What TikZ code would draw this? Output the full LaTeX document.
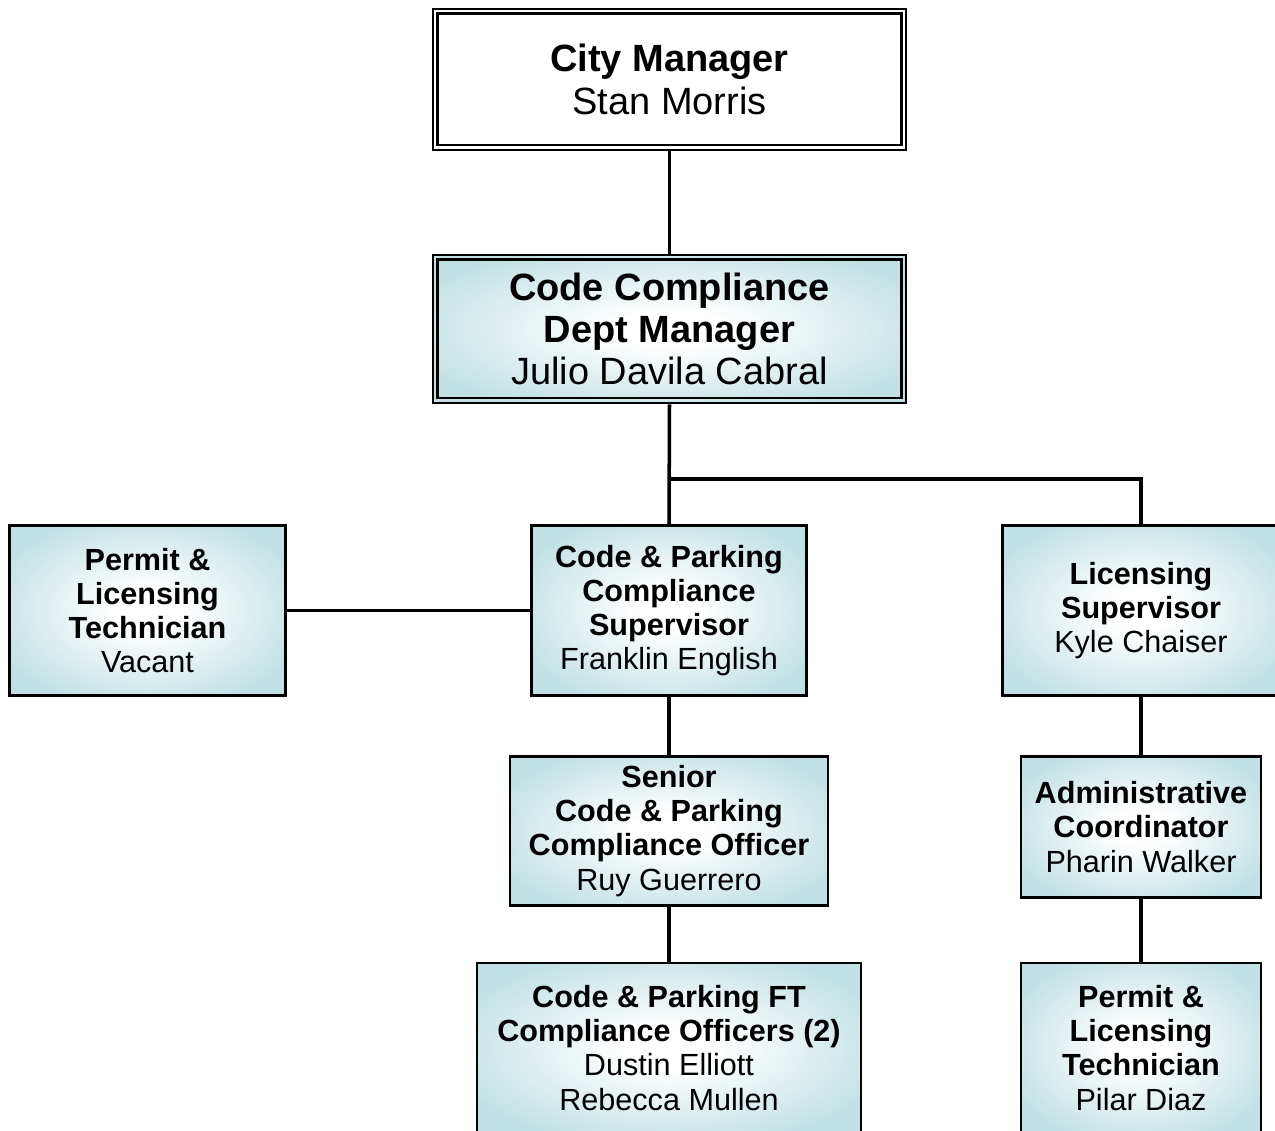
\documentclass[tikz,border=0pt]{standalone}
\usepackage{fontspec}
\setmainfont{Liberation Sans}
\usetikzlibrary{calc}
\definecolor{boxteal}{RGB}{192,224,227}
\pgfdeclareradialshading{boxglow}{\pgfpointorigin}{color(0bp)=(white); color(6bp)=(white); color(30bp)=(boxteal); color(50bp)=(boxteal)}
\begin{document}
\begin{tikzpicture}[x=0.01cm, y=-0.01cm,
  unit/.style={draw=black, line width=0.7pt, shade, shading=boxglow,
    align=center, inner sep=0pt, font=\fontsize{8.7}{9.7}\selectfont},
  headunit/.style={unit, font=\fontsize{10.8}{12}\selectfont},
  link/.style={draw=black, line width=1pt}]
\useasboundingbox (0,0) rectangle (1275,1131);
\clip (0,0) rectangle (1275,1131);

% City manager: white box with a double frame
\node[draw=black, line width=0.7pt, fill=white, align=center, inner sep=0pt,
  font=\fontsize{10.8}{12}\selectfont, minimum width=4.73cm, minimum height=1.41cm]
  (city) at (669.5,79.5) {\textbf{City Manager}\\Stan Morris};
\draw[line width=0.7pt] ($(city.north west)+(6,6)$) rectangle ($(city.south east)+(-6,-6)$);

% Department manager: shaded box with a double frame
\node[headunit, minimum width=4.73cm, minimum height=1.48cm] (dept) at (669.5,329)
  {\textbf{Code Compliance}\\\textbf{Dept Manager}\\Julio Davila Cabral};
\draw[line width=0.7pt] ($(dept.north west)+(6,6)$) rectangle ($(dept.south east)+(-6,-6)$);

% Second level
\node[unit, minimum width=2.76cm, minimum height=1.70cm] (pltA) at (147.5,610.5)
  {\textbf{Permit \&}\\\textbf{Licensing}\\\textbf{Technician}\\Vacant};
\node[unit, minimum width=2.75cm, minimum height=1.70cm] (cps) at (669,610.5)
  {\textbf{Code \& Parking}\\\textbf{Compliance}\\\textbf{Supervisor}\\Franklin English};
\node[unit, minimum width=2.77cm, minimum height=1.70cm] (lic) at (1141,610.5)
  {\textbf{Licensing}\\\textbf{Supervisor}\\Kyle Chaiser};

% Third level
\node[unit, minimum width=3.18cm, minimum height=1.49cm] (senior) at (669,831)
  {\textbf{Senior}\\\textbf{Code \& Parking}\\\textbf{Compliance Officer}\\Ruy Guerrero};
\node[unit, minimum width=2.40cm, minimum height=1.41cm] (admin) at (1141,827)
  {\textbf{Administrative}\\\textbf{Coordinator}\\Pharin Walker};

% Fourth level
\node[unit, minimum width=3.84cm, minimum height=1.70cm] (ft) at (669,1048)
  {\textbf{Code \& Parking FT}\\\textbf{Compliance Officers (2)}\\Dustin Elliott\\Rebecca Mullen};
\node[unit, minimum width=2.40cm, minimum height=1.70cm] (pltB) at (1141,1048)
  {\textbf{Permit \&}\\\textbf{Licensing}\\\textbf{Technician}\\Pilar Diaz};

% Connectors
\coordinate (split) at (669,479);
\draw[link] (city.south) -- (dept.north);
\draw[link] (dept.south) -- (cps.north);
\draw[link] (split) -| (lic.north);
\draw[link] (pltA.east) -- (cps.west);
\draw[link] (cps.south) -- (senior.north);
\draw[link] (senior.south) -- (ft.north);
\draw[link] (lic.south) -- (admin.north);
\draw[link] (admin.south) -- (pltB.north);
\end{tikzpicture}
\end{document}
